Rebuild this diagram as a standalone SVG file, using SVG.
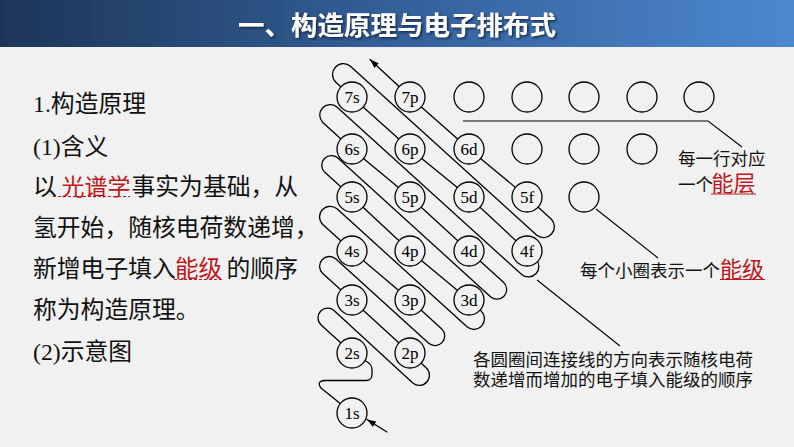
<svg xmlns="http://www.w3.org/2000/svg" width="794" height="447" viewBox="0 0 794 447">
<defs>
<linearGradient id="hdr" x1="0" y1="0" x2="1" y2="0">
<stop offset="0" stop-color="#1c3557"/>
<stop offset="0.5" stop-color="#34609a"/>
<stop offset="1" stop-color="#4c88cf"/>
</linearGradient>
<filter id="sh" x="-5%" y="-30%" width="110%" height="160%">
<feDropShadow dx="1.5" dy="1.5" stdDeviation="1" flood-color="#0a1a30" flood-opacity="0.8"/>
</filter>
<marker id="arr" viewBox="0 0 10 10" refX="10" refY="5" markerWidth="9" markerHeight="9" markerUnits="userSpaceOnUse" orient="auto">
<path d="M0,1.5 L10,5 L0,8.5 Z" fill="#000"/>
</marker>
<style>
.ln{fill:none;stroke:#000;stroke-width:1.3;stroke-linejoin:round;stroke-linecap:round}
.lead{fill:none;stroke:#000;stroke-width:1.1}
.c{fill:#f1f1f1;stroke:#000;stroke-width:1.3}
.lb{font-family:"Liberation Serif","DejaVu Serif",serif;font-size:17px;fill:#000;text-anchor:middle}
.body{font-family:"Liberation Serif","Noto Sans CJK SC",sans-serif;font-size:23.8px;fill:#111}
.red{fill:#c0161c}
.note{font-family:"Liberation Serif","Noto Sans CJK SC",serif;font-size:17.5px;fill:#111}
.big{font-family:"Noto Sans CJK SC",sans-serif;font-size:22px;fill:#c0161c}
.dash{stroke:#c0161c;stroke-width:1.2;stroke-dasharray:3 2;fill:none}
.ul{stroke:#c0161c;stroke-width:1.2;fill:none}
</style>
</defs>
<rect x="0" y="0" width="794" height="447" fill="#f1f1f1"/>
<g id="header">
<rect x="0" y="0" width="794" height="47" fill="url(#hdr)"/>
<text x="397" y="35" text-anchor="middle" font-family="Noto Sans CJK SC, sans-serif" font-weight="bold" font-size="26.5" fill="#fff" filter="url(#sh)">一、构造原理与电子排布式</text>
</g>
<g id="left-text">
<text class="body" x="33" y="112">1.构造原理</text>
<text class="body" x="33" y="155">(1)含义</text>
<text class="body" y="195"><tspan x="33">以</tspan><tspan x="61.5" class="red" font-size="23">光谱学</tspan><tspan x="131.5">事实为基础，从</tspan></text>
<line class="dash" x1="53" y1="196.5" x2="130" y2="196.5"/>
<text class="body" x="33" y="236">氢开始，随核电荷数递增，</text>
<text class="body" y="277"><tspan x="33">新增电子填入</tspan><tspan x="175" class="red" font-size="23.5">能级</tspan><tspan x="226.5">的顺序</tspan></text>
<line class="dash" x1="174" y1="279.5" x2="224" y2="279.5"/>
<text class="body" x="33" y="318">称为构造原理。</text>
<text class="body" x="33" y="360">(2)示意图</text>
</g>
<g id="connectors">
<path class="ln" d="M352,413 L321,388 Q316,381 325,380.5 L366,380.5 Q372,380.5 372,374 L372,369 Q372,364 364,360 L352,353"/>
<path class="ln" d="M352,353 L320.9,324.8 A9.74,9.74 0 0 1 334.0,310.4 L412.8,382.9 A9.74,9.74 0 0 0 425.9,367.5 L410,353 L352,300"/>
<path class="ln" d="M352,300 L322.8,273.5 A9.74,9.74 0 0 1 335.9,259.0 L428.7,343.3 A9.74,9.74 0 0 0 441.8,328.9 L410,300 L352,251"/>
<path class="ln" d="M352,251 L322.8,224.5 A10.59,10.59 0 0 1 337.0,208.8 L467.0,326.8 A10.59,10.59 0 0 0 481.2,311.1 L469,300 L410,251 L352,197"/>
<path class="ln" d="M352,197 L324.6,172.1 A9.67,9.67 0 0 1 337.6,157.8 L490.8,296.9 A9.67,9.67 0 0 0 503.8,282.6 L469,251 L410,197 L352,149"/>
<path class="ln" d="M352,149 L322.8,122.5 A10.53,10.53 0 0 1 336.9,106.9 L521.7,274.6 A10.53,10.53 0 0 0 535.9,259.1 L527,251 L469,197 L410,149 L352,97"/>
<path class="ln" d="M352,97 L336.1,82.6 A10.9,10.9 0 0 1 350.7,66.4 L536.8,235.3 A10.9,10.9 0 0 0 551.4,219.2 L527,197 L469,149 L410,97"/>
<path class="ln" d="M399,86.5 L370,59.5" marker-end="url(#arr)"/>
<path class="ln" d="M387,432 L367,419.5" marker-end="url(#arr)"/>
<path class="lead" d="M463,121 L708,121 L742,147"/>
<path class="lead" d="M596,209 L658,258"/>
<path class="lead" d="M537,280 L620,346"/>
</g>
<g id="n-7s"><circle class="c" cx="352" cy="97" r="15"/><text class="lb" x="352" y="102.5">7s</text></g>
<g id="n-7p"><circle class="c" cx="410" cy="97" r="15"/><text class="lb" x="410" y="102.5">7p</text></g>
<g id="n-7d"><circle class="c" cx="469" cy="97" r="15"/></g>
<g id="n-7f"><circle class="c" cx="527" cy="97" r="15"/></g>
<g id="n-7g"><circle class="c" cx="584" cy="97" r="15"/></g>
<g id="n-7h"><circle class="c" cx="642" cy="97" r="15"/></g>
<g id="n-7i"><circle class="c" cx="699" cy="97" r="15"/></g>
<g id="n-6s"><circle class="c" cx="352" cy="149" r="15"/><text class="lb" x="352" y="154.5">6s</text></g>
<g id="n-6p"><circle class="c" cx="410" cy="149" r="15"/><text class="lb" x="410" y="154.5">6p</text></g>
<g id="n-6d"><circle class="c" cx="469" cy="149" r="15"/><text class="lb" x="469" y="154.5">6d</text></g>
<g id="n-6f"><circle class="c" cx="527" cy="149" r="15"/></g>
<g id="n-6g"><circle class="c" cx="584" cy="149" r="15"/></g>
<g id="n-6h"><circle class="c" cx="642" cy="149" r="15"/></g>
<g id="n-5s"><circle class="c" cx="352" cy="197" r="15"/><text class="lb" x="352" y="202.5">5s</text></g>
<g id="n-5p"><circle class="c" cx="410" cy="197" r="15"/><text class="lb" x="410" y="202.5">5p</text></g>
<g id="n-5d"><circle class="c" cx="469" cy="197" r="15"/><text class="lb" x="469" y="202.5">5d</text></g>
<g id="n-5f"><circle class="c" cx="527" cy="197" r="15"/><text class="lb" x="527" y="202.5">5f</text></g>
<g id="n-5g"><circle class="c" cx="584" cy="197" r="15"/></g>
<g id="n-4s"><circle class="c" cx="352" cy="251" r="15"/><text class="lb" x="352" y="256.5">4s</text></g>
<g id="n-4p"><circle class="c" cx="410" cy="251" r="15"/><text class="lb" x="410" y="256.5">4p</text></g>
<g id="n-4d"><circle class="c" cx="469" cy="251" r="15"/><text class="lb" x="469" y="256.5">4d</text></g>
<g id="n-4f"><circle class="c" cx="527" cy="251" r="15"/><text class="lb" x="527" y="256.5">4f</text></g>
<g id="n-3s"><circle class="c" cx="352" cy="300" r="15"/><text class="lb" x="352" y="305.5">3s</text></g>
<g id="n-3p"><circle class="c" cx="410" cy="300" r="15"/><text class="lb" x="410" y="305.5">3p</text></g>
<g id="n-3d"><circle class="c" cx="469" cy="300" r="15"/><text class="lb" x="469" y="305.5">3d</text></g>
<g id="n-2s"><circle class="c" cx="352" cy="353" r="15"/><text class="lb" x="352" y="358.5">2s</text></g>
<g id="n-2p"><circle class="c" cx="410" cy="353" r="15"/><text class="lb" x="410" y="358.5">2p</text></g>
<g id="n-1s"><circle class="c" cx="352" cy="413" r="15"/><text class="lb" x="352" y="418.5">1s</text></g>
<g id="label-layer">
<text class="note" x="678" y="165">每一行对应</text>
<text y="191"><tspan class="note" x="678">一个</tspan><tspan class="big" x="711.5">能层</tspan></text>
<line class="ul" x1="711" y1="194" x2="756" y2="194"/>
</g>
<g id="label-level">
<text y="277"><tspan class="note" x="580">每个小圈表示一个</tspan><tspan class="big" x="720">能级</tspan></text>
<line class="ul" x1="720" y1="279.5" x2="765" y2="279.5"/>
</g>
<g id="label-order">
<text class="note" x="473" y="366">各圆圈间连接线的方向表示随核电荷</text>
<text class="note" x="473" y="386">数递增而增加的电子填入能级的顺序</text>
</g>
</svg>
